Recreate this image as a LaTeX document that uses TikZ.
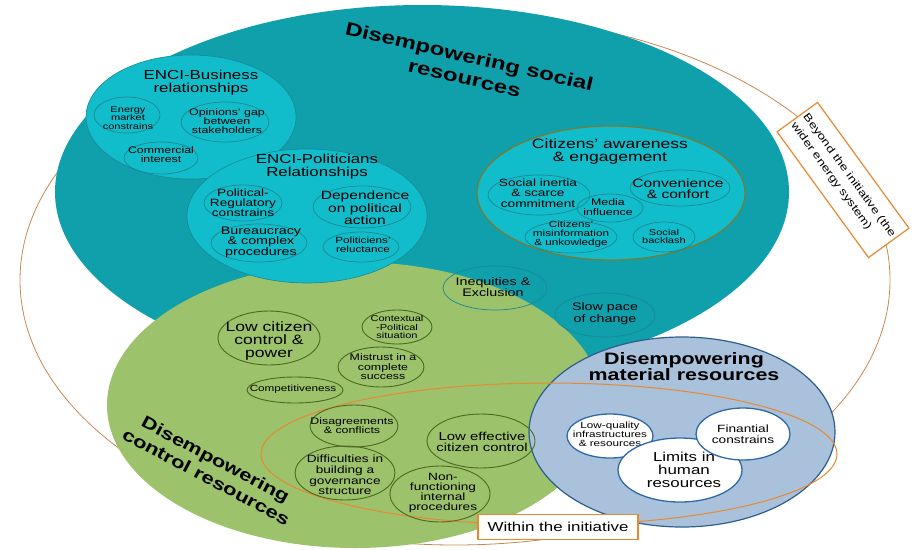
\documentclass[tikz,border=0pt]{standalone}
\usepackage{fontspec}
\setmainfont{Liberation Sans}[FakeStretch=1.3]
\usetikzlibrary{shapes.geometric}
\newcommand\myfs[2]{\fontsize{#1pt}{#2pt}\selectfont}
\definecolor{tealbig}{HTML}{0FA0AB}
\definecolor{cyanin}{HTML}{12BDCB}
\definecolor{tealline}{HTML}{1A8893}
\definecolor{oliveline}{HTML}{7A7A30}
\definecolor{greenbig}{HTML}{9CC26B}
\definecolor{greenline}{HTML}{4A6A22}
\definecolor{bluebig}{HTML}{A9C1DB}
\definecolor{blueborder}{HTML}{2D5E8E}
\definecolor{blueline}{HTML}{2F6AA8}
\definecolor{orangeline}{HTML}{E8892F}
\definecolor{outerline}{HTML}{C8874F}
\begin{document}
\begin{tikzpicture}[x=1pt,y=-1pt,
  sz/.style 2 args={minimum width=#1pt, minimum height=#2pt},
  base/.style={ellipse, inner sep=0pt},
  tsub/.style={base, draw=tealline, line width=0.7pt},
  gsub/.style={base, draw=greenline, line width=0.9pt},
  wsub/.style={base, draw=blueline, fill=white, line width=1.3pt},
  txt/.style={align=center, inner sep=0pt, text=black},
  ttl/.style={align=center, inner sep=0pt, text=black, font=\bfseries},
  tagbox/.style={draw=orangeline, fill=white, line width=1.2pt, inner sep=3pt}
]
\useasboundingbox (0,0) rectangle (917,549);
% outer system
\node[base, draw=outerline, line width=0.8pt, sz={870}{530}] (beyond) at (455,280) {};
% social resources
\node[base, fill=tealbig, sz={734}{374}] (social) at (422,192) {};
% control resources
\node[base, fill=greenbig, sz={496}{286}] (control) at (355,405) {};
% ENCI-Business
\node[base, fill=cyanin, draw=tealline, line width=0.6pt, sz={210}{124}] (business) at (191,117) {};
\node[txt, font=\myfs{13}{13}] (businessT) at (201,83) {ENCI-Business\\relationships};
\node[tsub, sz={66}{36}] (energy) at (127,115) {};
\node[txt, font=\myfs{8.5}{8.5}] (energyT) at (128,118) {Energy\\market\\constrains};
\node[tsub, sz={88}{40}] (opinions) at (225,122) {};
\node[txt, font=\myfs{9.5}{9}] (opinionsT) at (227,121) {Opinions' gap\\between\\stakeholders};
\node[tsub, sz={74}{32}] (commercial) at (161,158) {};
\node[txt, font=\myfs{9.5}{9}] (commercialT) at (161,155) {Commercial\\interest};
% ENCI-Politicians
\node[base, fill=cyanin, draw=tealline, line width=0.6pt, sz={240}{134}] (politicians) at (307,216) {};
\node[txt, font=\myfs{13}{13}] (politiciansT) at (317,167) {ENCI-Politicians\\Relationships};
\node[tsub, sz={78}{36}] (polreg) at (243,203) {};
\node[txt, font=\myfs{10.5}{10}] (polregT) at (243,203) {Political-\\Regulatory\\constrains};
\node[tsub, sz={98}{42}] (dep) at (362,207) {};
\node[txt, font=\myfs{12}{12.5}] (depT) at (365,208) {Dependence\\on political\\action};
\node[tsub, sz={96}{38}] (bur) at (259,243) {};
\node[txt, font=\myfs{11}{10.5}] (burT) at (261,242) {Bureaucracy\\\& complex\\procedures};
\node[tsub, sz={76}{30}] (reluct) at (361,247) {};
\node[txt, font=\myfs{9}{9}] (reluctT) at (363,245) {Politiciens'\\reluctance};
% Citizens
\node[base, fill=cyanin, draw=oliveline, line width=1.2pt, sz={268}{134}] (citizens) at (611,193) {};
\node[txt, font=\myfs{13.5}{13}] (citizensT) at (610,152) {Citizens' awareness\\\& engagement};
\node[tsub, sz={102}{40}] (inertia) at (539,195) {};
\node[txt, font=\myfs{10.5}{10.5}] (inertiaT) at (538,193) {Social inertia\\\& scarce\\commitment};
\node[tsub, sz={66}{28}] (media) at (610,208) {};
\node[txt, font=\myfs{9.5}{10}] (mediaT) at (608,207) {Media\\influence};
\node[tsub, sz={100}{36}] (conv) at (680,188) {};
\node[txt, font=\myfs{12}{11}] (convT) at (678,189) {Convenience\\\& confort};
\node[tsub, sz={92}{32}] (misinfo) at (571,237) {};
\node[txt, font=\myfs{9}{9}] (misinfoT) at (571,234) {Citizens'\\misinformation\\\& unkowledge};
\node[tsub, sz={62}{30}] (backlash) at (664,237) {};
\node[txt, font=\myfs{8.5}{8}] (backlashT) at (664,236) {Social\\backlash};
% free-standing social items
\node[tsub, draw=tealline, sz={104}{44}] (ineq) at (495,288) {};
\node[txt, font=\myfs{11}{10.5}] (ineqT) at (493,287) {Inequities \&\\Exclusion};
\node[tsub, sz={100}{44}] (slow) at (605,315) {};
\node[txt, font=\myfs{11}{12}] (slowT) at (605,314) {Slow pace\\of change};
\node[ttl, font=\bfseries\myfs{18.5}{22}, rotate=-13] (socialT) at (467,67) {Disempowering social\\resources};
% control items
\node[gsub, sz={102}{54}] (lowcit) at (269,338) {};
\node[txt, font=\myfs{13.5}{13}] (lowcitT) at (269,341) {Low citizen\\control \&\\power};
\node[gsub, sz={70}{34}] (context) at (397,327) {};
\node[txt, font=\myfs{8.5}{8.5}] (contextT) at (397,327) {Contextual\\-Political\\situation};
\node[gsub, sz={86}{40}] (mistrust) at (381,367) {};
\node[txt, font=\myfs{9.5}{9.5}] (mistrustT) at (383,367) {Mistrust in a\\complete\\success};
\node[gsub, sz={96}{26}] (compet) at (295,390) {};
\node[txt, font=\myfs{9}{9}] (competT) at (293,389) {Competitiveness};
\node[ttl, font=\bfseries\myfs{17}{20}, rotate=-28] (controlT) at (211,468) {Disempowering\\control resources};
% material resources
\node[base, fill=bluebig, draw=blueborder, line width=1.2pt, sz={306}{190}] (material) at (682,432) {};
\node[ttl, font=\bfseries\myfs{16.5}{16}] (materialT) at (684,367) {Disempowering\\material resources};
% within the initiative
\node[base, draw=orangeline, line width=1pt, sz={576}{142}] (within) at (549,454) {};
\node[gsub, sz={88}{42}] (disag) at (354,426) {};
\node[txt, font=\myfs{9.5}{9}] (disagT) at (352,426) {Disagreements\\\& conflicts};
\node[gsub, sz={108}{54}] (loweff) at (481,441) {};
\node[txt, font=\myfs{11.5}{11}] (loweffT) at (482,442) {Low effective\\citizen control};
\node[gsub, sz={100}{54}] (diff) at (345,473) {};
\node[txt, font=\myfs{10.5}{10.7}] (diffT) at (345,475) {Difficulties in\\building a\\governance\\structure};
\node[gsub, sz={100}{56}] (nonfunc) at (440,494) {};
\node[txt, font=\myfs{10.5}{10.3}] (nonfuncT) at (443,493) {Non-\\functioning\\internal\\procedures};
\node[wsub, sz={86}{44}] (lowq) at (610,436) {};
\node[txt, font=\myfs{9}{9}] (lowqT) at (610,434) {Low-quality\\infrastructures\\\& resources};
\node[wsub, sz={124}{64}] (limits) at (680,470) {};
\node[txt, font=\myfs{13}{13}] (limitsT) at (684,470) {Limits in\\human\\resources};
\node[wsub, sz={94}{52}] (finan) at (743,434) {};
\node[txt, font=\myfs{10.5}{11}] (finanT) at (743,434) {Finantial\\constrains};
% tags
\node[tagbox, sz={160}{25}, font=\myfs{13}{13}] (withinT) at (558,527) {Within the initiative};
\node[tagbox, sz={152}{50}, rotate=-54, align=left, font=\myfs{10.5}{15}] (beyondT) at (843,180) {Beyond the initiative (the\\wider energy system)};
\end{tikzpicture}
\end{document}
